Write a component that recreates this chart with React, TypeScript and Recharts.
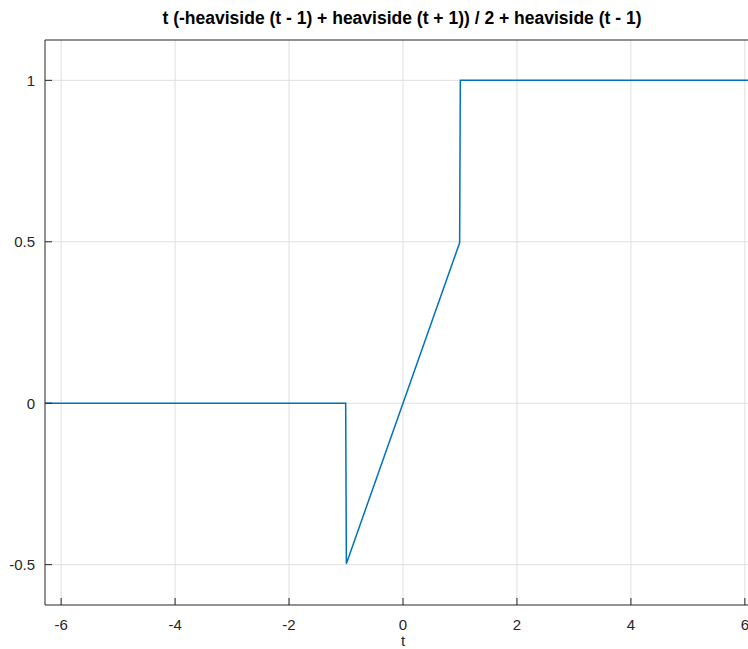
import { CartesianGrid, Line, LineChart, XAxis, YAxis } from 'recharts'

const tValues = [-6.2832, -1.006, -1, -0.994, 0.994, 1, 1.006, 6.2832]
const yValues = [0, 0, -0.25, -0.497, 0.497, 0.75, 1, 1]

const xTicks = [-6, -4, -2, 0, 2, 4, 6]
const yTicks = [-0.5, 0, 0.5, 1]

const title = 't (-heaviside (t - 1) + heaviside (t + 1)) / 2 + heaviside (t - 1)'

const FONT = '"Liberation Sans", Arial, Helvetica, sans-serif'
const AXIS = '#262626'
const GRID = '#dfdfdf'
const BLUE = '#0072bd'

export default function App() {
  const data = tValues.map((t, i) => ({ t, y: yValues[i] }))
  return (
    <div
      style={{
        position: 'absolute',
        left: 0,
        top: 0,
        width: 748,
        height: 649,
        overflow: 'hidden',
        background: '#fff',
        fontFamily: FONT,
      }}
    >
      <LineChart width={761} height={649} data={data} margin={{ top: 39, right: 0, bottom: 14, left: 0 }}>
        <CartesianGrid stroke={GRID} strokeWidth={1} verticalValues={xTicks} horizontalValues={yTicks} />
        <XAxis
          dataKey="t"
          type="number"
          domain={[-2 * Math.PI, 2 * Math.PI]}
          ticks={xTicks}
          allowDataOverflow
          height={30}
          stroke={AXIS}
          tickSize={-7}
          tickMargin={21}
          tick={{ fill: AXIS, fontSize: 15, fontFamily: FONT }}
          label={{ value: 't', position: 'bottom', offset: 0, fill: AXIS, fontSize: 15, fontFamily: FONT }}
        />
        <XAxis
          xAxisId="top"
          orientation="top"
          dataKey="t"
          type="number"
          domain={[-2 * Math.PI, 2 * Math.PI]}
          ticks={xTicks}
          allowDataOverflow
          height={1}
          stroke={AXIS}
          tickSize={-7}
          tick={false}
        />
        <YAxis
          type="number"
          domain={[-0.625, 1.125]}
          ticks={yTicks}
          allowDataOverflow
          width={45}
          stroke={AXIS}
          tickSize={-7}
          tickMargin={17}
          tick={{ fill: AXIS, fontSize: 15, fontFamily: FONT }}
        />
        <Line
          type="linear"
          dataKey="y"
          stroke={BLUE}
          strokeWidth={1.5}
          dot={false}
          isAnimationActive={false}
        />
      </LineChart>
      <svg width={748} height={40} style={{ position: 'absolute', left: 0, top: 0 }}>
        <text x={402} y={24} textAnchor="middle" fontFamily={FONT} fontSize={17.5} fontWeight="bold" fill="#000">
          {title}
        </text>
      </svg>
    </div>
  )
}
